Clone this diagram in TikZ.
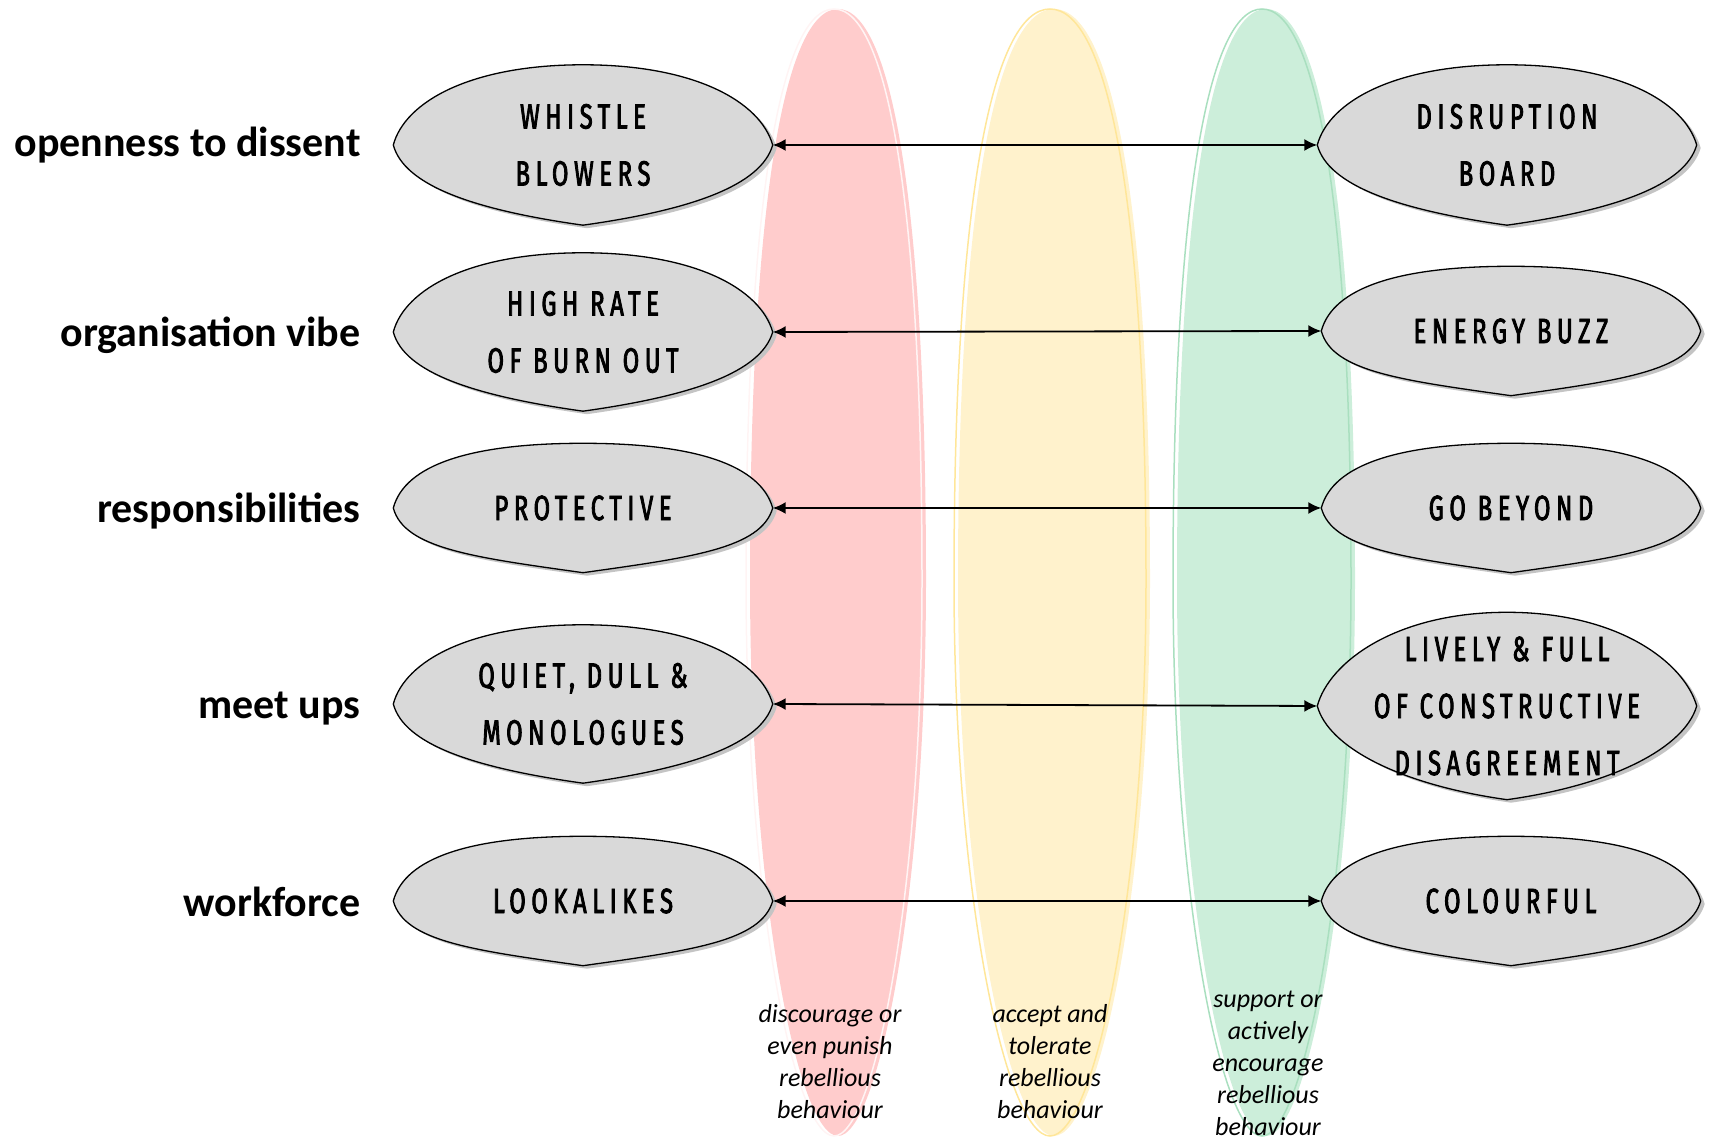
\documentclass[tikz,border=0pt]{standalone}
\usepackage{fontspec}
\setmainfont{Carlito}
\newfontfamily\handfont{Fira Sans}[FakeStretch=0.68,LetterSpace=16,FakeBold=2.4]
\usetikzlibrary{arrows.meta}
\pgfdeclarelayer{bands}
\pgfdeclarelayer{leaves}
\pgfsetlayers{bands,leaves,main}
\definecolor{redband}{HTML}{FFCCCC}
\definecolor{yellowband}{HTML}{FFF2CC}
\definecolor{greenband}{HTML}{CCEEDA}
\definecolor{redline}{HTML}{FFF4F4}
\definecolor{yellowline}{HTML}{FFE699}
\definecolor{greenline}{HTML}{A9DFBF}
\definecolor{leafgray}{HTML}{D9D9D9}
\definecolor{shadowgray}{HTML}{C4C4C4}
\tikzset{
  aspect/.style={anchor=base east, font=\bfseries\fontsize{42}{50}\selectfont},
  leaf/.style={rectangle, inner sep=0pt, minimum width=379pt, align=center,
    font=\handfont\fontsize{35}{57}\selectfont},
  leafbody/.style={fill=leafgray, draw=black, line width=1.3pt,
    preaction={fill=shadowgray, transform canvas={xshift=4pt,yshift=-3pt}}},
  conn/.style={<->, line width=1.8pt},
  caption/.style={align=center, font=\itshape\fontsize{26}{32}\selectfont},
}
\begin{document}
\begin{tikzpicture}[x=1pt, y=1pt, >={Latex[length=13pt,width=12pt]}]
\useasboundingbox (0,0) rectangle (1709,1145);

% three bands
\begin{pgfonlayer}{bands}
\foreach \cx/\hw/\bandc/\linec in {838/88/redband/redline, 1054/96/yellowband/yellowline, 1266/89/greenband/greenline}
{
  \fill[\bandc, postaction={draw=\linec, line width=1.5pt, transform canvas={xshift=-4pt}}]
    (\cx,1136) .. controls ({\cx+0.6*\hw},1136) and ({\cx+\hw},945) .. ({\cx+\hw},565)
    .. controls ({\cx+\hw},245) and ({\cx+0.45*\hw},9) .. (\cx,9)
    .. controls ({\cx-0.45*\hw},9) and ({\cx-\hw},245) .. ({\cx-\hw},565)
    .. controls ({\cx-\hw},945) and ({\cx-0.6*\hw},1136) .. (\cx,1136) -- cycle;
}
\end{pgfonlayer}

% row labels
\node[aspect] (a1) at (364,988) {openness to dissent};
\node[aspect] (a2) at (364,798) {organisation vibe};
\node[aspect] (a3) at (364,622) {responsibilities};
\node[aspect] (a4) at (364,426) {meet ups};
\node[aspect] (a5) at (364,228) {workforce};

% left leaves
\node[leaf, minimum height=160pt] (l1) at (583,1000) {WHISTLE\\BLOWERS};
\node[leaf, minimum height=158pt] (l2) at (583,813) {HIGH RATE\\OF BURN OUT};
\node[leaf, minimum height=129pt] (l3) at (583,637) {PROTECTIVE};
\node[leaf, minimum height=158pt] (l4) at (583,441) {QUIET, DULL \&\\MONOLOGUES};
\node[leaf, minimum height=129pt] (l5) at (583,244) {LOOKALIKES};

% right leaves
\node[leaf, minimum height=160pt] (r1) at (1507,1000) {DISRUPTION\\BOARD};
\node[leaf, minimum height=129pt] (r2) at (1511,814) {ENERGY BUZZ};
\node[leaf, minimum height=129pt] (r3) at (1511,637) {GO BEYOND};
\node[leaf, minimum height=187pt] (r4) at (1507,439) {LIVELY \& FULL\\OF CONSTRUCTIVE\\DISAGREEMENT};
\node[leaf, minimum height=129pt] (r5) at (1511,244) {COLOURFUL};

\begin{pgfonlayer}{leaves}
\foreach \n in {l1,l2,l3,l4,l5,r1,r2,r3,r4,r5}
  \draw[leafbody] (\n.west) .. controls +(75:45) and +(180:112) .. (\n.north)
    .. controls +(0:112) and +(106:45) .. (\n.east)
    .. controls +(-106:42) and +(8:110) .. (\n.south)
    .. controls +(172:110) and +(-75:42) .. (\n.west) -- cycle;
\end{pgfonlayer}

% connectors
\foreach \i in {1,...,5}
  \draw[conn] (l\i.east) -- (r\i.west);

% band captions
\node[caption] (c1) at (830,83) {discourage or\\even punish\\rebellious\\behaviour};
\node[caption] (c2) at (1050,83) {accept and\\tolerate\\rebellious\\behaviour};
\node[caption] (c3) at (1268,82) {support or\\actively\\encourage\\rebellious\\behaviour};
\end{tikzpicture}
\end{document}
